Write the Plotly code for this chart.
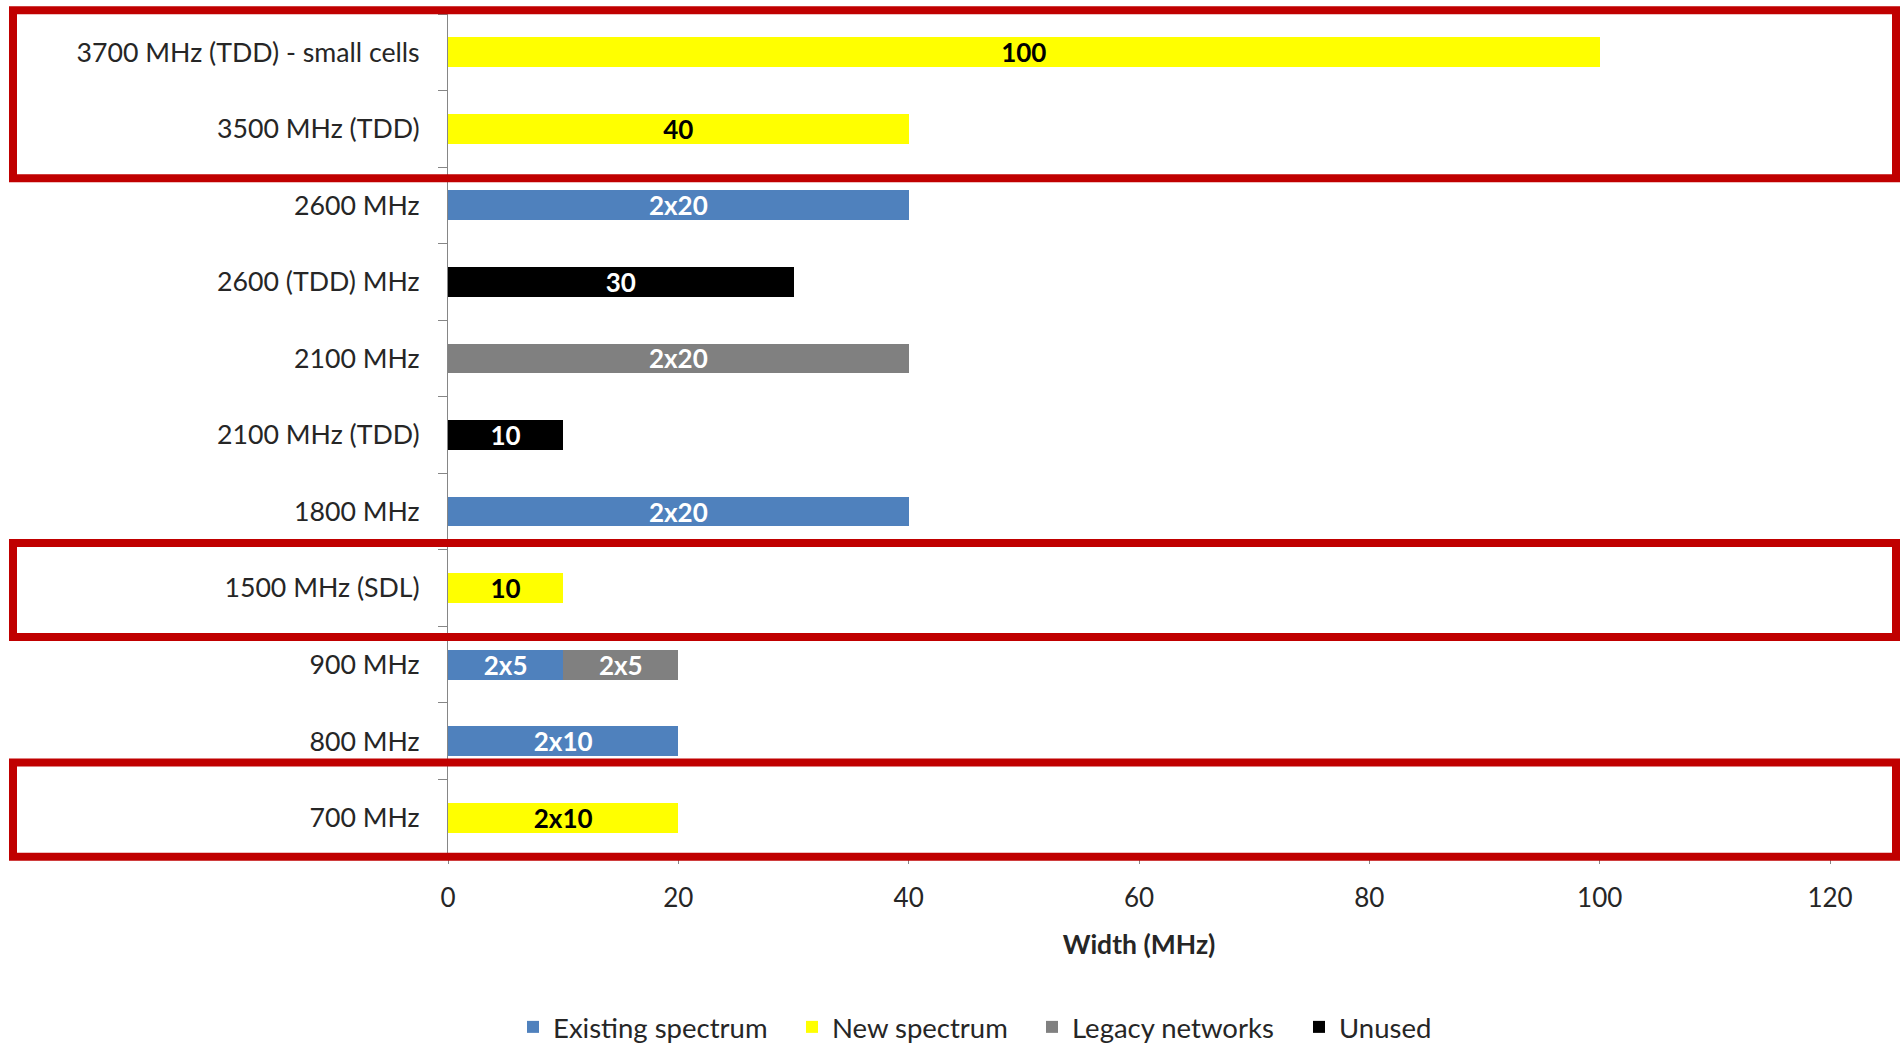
import plotly.graph_objects as go

# Frequency bands, bottom to top
bands = [
    "700 MHz", "800 MHz", "900 MHz", "1500 MHz (SDL)", "1800 MHz",
    "2100 MHz (TDD)", "2100 MHz", "2600 (TDD) MHz", "2600 MHz",
    "3500 MHz (TDD)", "3700 MHz (TDD) - small cells",
]

# Bandwidth (MHz) per band for each spectrum status, with the printed labels
existing = [None, 20, 10, None, 40, None, None, None, 40, None, None]
existing_lbl = ["", "2x10", "2x5", "", "2x20", "", "", "", "2x20", "", ""]

new = [20, None, None, 10, None, None, None, None, None, 40, 100]
new_lbl = ["2x10", "", "", "10", "", "", "", "", "", "40", "100"]

legacy = [None, None, 10, None, None, None, 40, None, None, None, None]
legacy_lbl = ["", "", "2x5", "", "", "", "2x20", "", "", "", ""]

unused = [None, None, None, None, None, 10, None, 30, None, None, None]
unused_lbl = ["", "", "", "", "", "10", "", "30", "", "", ""]

x_ticks = [0, 20, 40, 60, 80, 100, 120]

# Highlighted band groups: (lowest band, highest band, pad below, pad above)
highlights = [
    ("3500 MHz (TDD)", "3700 MHz (TDD) - small cells", 0.645, 0.55),
    ("1500 MHz (SDL)", "1500 MHz (SDL)", 0.64, 0.59),
    ("700 MHz", "700 MHz", 0.51, 0.72),
]

FONT = "Lato, 'Open Sans', sans-serif"
TXT = "#262626"
AXIS = "#868686"

series = [
    ("Existing spectrum", existing, existing_lbl, "#4F81BD", "white", "legend"),
    ("New spectrum", new, new_lbl, "#FFFF00", "black", "legend2"),
    ("Legacy networks", legacy, legacy_lbl, "#808080", "white", "legend3"),
    ("Unused", unused, unused_lbl, "#000000", "white", "legend4"),
]

fig = go.Figure()
for name, vals, lbls, color, tcolor, lg in series:
    fig.add_trace(go.Bar(
        y=bands, x=vals, orientation="h", name=name,
        marker=dict(color=color, line=dict(width=0)),
        text=lbls, textposition="inside", insidetextanchor="middle",
        textangle=0,
        insidetextfont=dict(family=FONT, size=26, color=tcolor, weight="bold"),
        legend=lg, showlegend=True, hoverinfo="skip",
    ))

W, H = 1900, 1045
ML, MR, MT, MB = 448, 70, 14, 189
pw = W - ML - MR
ph = H - MT - MB

def px_x(px):
    return (px - ML) / pw

n = len(bands)
def cat_paper(v):
    return (v + 0.5) / n

shapes = []
for lo, hi, pad_lo, pad_hi in highlights:
    y0 = cat_paper(bands.index(lo) - pad_lo)
    y1 = cat_paper(bands.index(hi) + pad_hi)
    shapes.append(dict(
        type="rect", xref="paper", yref="paper",
        x0=px_x(13), x1=px_x(1896), y0=y0, y1=y1,
        line=dict(color="#C00000", width=8), fillcolor="rgba(0,0,0,0)",
        layer="above",
    ))

leg_y = (H - MB - 1027) / ph
legend_common = dict(
    orientation="h", yanchor="middle", y=leg_y, xanchor="left",
    font=dict(family=FONT, size=27.5, color=TXT), bgcolor="rgba(0,0,0,0)",
    borderwidth=0, visible=True,
)

fig.update_layout(
    width=W, height=H,
    margin=dict(l=ML, r=MR, t=MT, b=MB, autoexpand=False),
    paper_bgcolor="white", plot_bgcolor="white",
    barmode="stack", bargap=0.61,
    showlegend=True,
    uniformtext=dict(minsize=26, mode="show"),
    font=dict(family=FONT, size=26, color=TXT),
    shapes=shapes,
    legend=dict(legend_common, x=px_x(527 - 14)),
    legend2=dict(legend_common, x=px_x(806 - 14)),
    legend3=dict(legend_common, x=px_x(1046 - 14)),
    legend4=dict(legend_common, x=px_x(1313 - 14)),
    xaxis=dict(
        range=[0, 120], tickvals=x_ticks, ticktext=[str(t) for t in x_ticks],
        showgrid=False, zeroline=False,
        showline=True, linecolor=AXIS, linewidth=1,
        ticks="outside", ticklen=7, tickcolor=AXIS, tickwidth=1,
        ticklabelstandoff=12,
        tickfont=dict(family=FONT, size=26, color=TXT),
        title=dict(text="<b>Width (MHz)</b>", standoff=23,
                   font=dict(family=FONT, size=26.5, color=TXT)),
    ),
    yaxis=dict(
        type="category", categoryorder="array", categoryarray=bands,
        range=[-0.5, n - 0.5],
        showgrid=False, zeroline=False,
        showline=True, linecolor=AXIS, linewidth=1,
        ticks="outside", tickson="boundaries", ticklen=9,
        tickcolor=AXIS, tickwidth=1, ticklabelstandoff=22,
        tickfont=dict(family=FONT, size=26.7, color=TXT),
    ),
)

fig.write_html("out.html")
